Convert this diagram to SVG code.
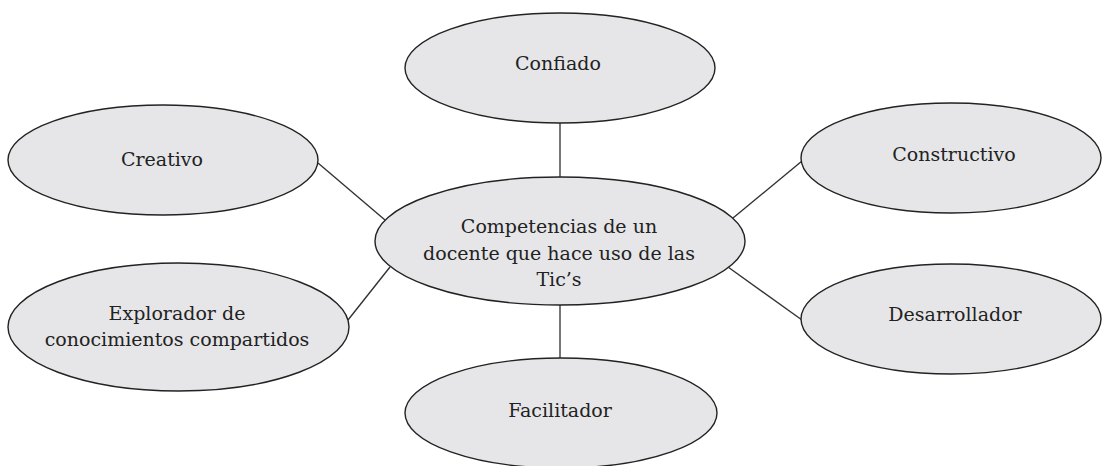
<svg xmlns="http://www.w3.org/2000/svg" width="1103" height="466" viewBox="0 0 1103 466">
<style>
.node ellipse{fill:#e6e6e8;stroke:#222;stroke-width:1.4}
.node text{font-family:"DejaVu Serif","Liberation Serif",serif;font-size:19px;fill:#222;text-anchor:middle}
.conn line{stroke:#333;stroke-width:1.4}
.conn line.v{stroke:#555;stroke-width:1.6}
</style>
<rect width="1103" height="466" fill="#fff"/>
<g id="connectors" class="conn">
<line class="v" x1="560" y1="123" x2="560" y2="177"/>
<line class="v" x1="560" y1="305" x2="560" y2="360"/>
<line x1="318" y1="163" x2="385" y2="220"/>
<line x1="390" y1="267" x2="348" y2="320"/>
<line x1="802" y1="161" x2="733" y2="218"/>
<line x1="728" y1="267" x2="802" y2="320"/>
</g>
<g id="center" class="node">
<ellipse cx="560" cy="241" rx="185" ry="64"/>
<text x="559" y="233">Competencias de un</text>
<text x="559" y="260">docente que hace uso de las</text>
<text x="559" y="286">Tic’s</text>
</g>
<g id="confiado" class="node">
<ellipse cx="560" cy="68" rx="155" ry="55"/>
<text x="558" y="70">Confiado</text>
</g>
<g id="creativo" class="node">
<ellipse cx="163" cy="160" rx="155" ry="55"/>
<text x="162" y="166">Creativo</text>
</g>
<g id="constructivo" class="node">
<ellipse cx="951" cy="158" rx="150" ry="55"/>
<text x="954" y="161">Constructivo</text>
</g>
<g id="explorador" class="node">
<ellipse cx="178.5" cy="327" rx="170.5" ry="64"/>
<text x="177" y="320">Explorador de</text>
<text x="177" y="346">conocimientos compartidos</text>
</g>
<g id="desarrollador" class="node">
<ellipse cx="951" cy="319" rx="150" ry="55"/>
<text x="955" y="321">Desarrollador</text>
</g>
<g id="facilitador" class="node">
<ellipse cx="561" cy="413" rx="156" ry="55"/>
<text x="560" y="417">Facilitador</text>
</g>
</svg>
